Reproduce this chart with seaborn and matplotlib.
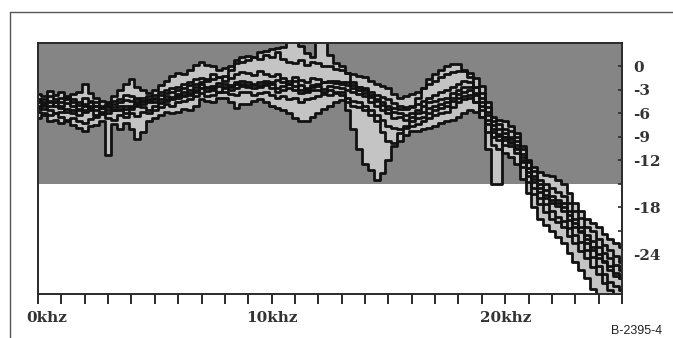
import matplotlib
matplotlib.use("Agg")
import matplotlib.pyplot as plt
from matplotlib.lines import Line2D
from matplotlib.transforms import blended_transform_factory
import pandas as pd
import seaborn as sns

# Measurement frequencies (kHz), 0.25 kHz spacing
freq_khz = [0.0, 0.25, 0.5, 0.75, 1.0, 1.25, 1.5, 1.75, 2.0, 2.25,
            2.5, 2.75, 3.0, 3.25, 3.5, 3.75, 4.0, 4.25, 4.5, 4.75,
            5.0, 5.25, 5.5, 5.75, 6.0, 6.25, 6.5, 6.75, 7.0, 7.25,
            7.5, 7.75, 8.0, 8.25, 8.5, 8.75, 9.0, 9.25, 9.5, 9.75,
            10.0, 10.25, 10.5, 10.75, 11.0, 11.25, 11.5, 11.75, 12.0, 12.25,
            12.5, 12.75, 13.0, 13.25, 13.5, 13.75, 14.0, 14.25, 14.5, 14.75,
            15.0, 15.25, 15.5, 15.75, 16.0, 16.25, 16.5, 16.75, 17.0, 17.25,
            17.5, 17.75, 18.0, 18.25, 18.5, 18.75, 19.0, 19.25, 19.5, 19.75,
            20.0, 20.25, 20.5, 20.75, 21.0, 21.25, 21.5, 21.75, 22.0, 22.25,
            22.5, 22.75, 23.0, 23.25, 23.5, 23.75, 24.0, 24.25, 24.5, 24.75,
            25.0]

# Response of each measured unit (dB)
curve_a = [-5.0, -5.4, -5.0, -4.6, -5.3, -5.8, -5.5, -6.2, -5.5, -5.1,
           -5.5, -6.0, -5.5, -5.2, -5.0, -5.4, -5.0, -4.6, -4.8, -4.3,
           -4.5, -4.2, -3.8, -3.9, -3.5, -3.2, -3.0, -2.6, -2.3, -2.7,
           -2.5, -2.1, -2.3, -2.6, -2.3, -1.9, -2.0, -2.4, -2.0, -1.8,
           -2.3, -2.7, -2.5, -2.2, -2.5, -3.0, -2.8, -2.4, -2.5, -2.9,
           -2.5, -2.6, -2.8, -3.0, -3.2, -3.5, -3.8, -4.5, -5.0, -5.6,
           -6.0, -6.6, -6.5, -6.9, -6.5, -6.0, -5.8, -5.3, -5.0, -4.8,
           -4.5, -4.0, -3.5, -3.2, -3.0, -3.4, -4.5, -6.2, -8.0, -8.6,
           -9.0, -9.2, -10.0, -11.5, -13.5, -14.8, -16.0, -16.8, -17.5, -17.8,
           -18.5, -19.6, -20.5, -21.2, -22.5, -23.4, -24.5, -25.0, -26.0, -26.8,
           -27.0]
curve_b = [-4.2, -4.6, -3.8, -4.1, -4.5, -4.2, -4.6, -4.9, -4.0, -4.4,
           -4.6, -5.0, -4.8, -4.4, -4.2, -3.7, -3.8, -4.2, -4.0, -3.8,
           -3.6, -3.3, -3.0, -2.7, -2.6, -2.3, -2.0, -1.6, -1.5, -1.9,
           -1.6, -1.3, -1.2, -1.5, -1.0, -0.7, -0.8, -1.1, -0.6, -0.9,
           -1.2, -1.0, -1.5, -1.8, -1.4, -1.7, -2.0, -1.5, -1.6, -2.0,
           -1.8, -2.1, -2.2, -2.0, -2.4, -2.6, -2.8, -3.2, -3.6, -3.9,
           -4.2, -4.7, -5.0, -5.4, -5.2, -4.8, -4.4, -4.0, -3.6, -3.3,
           -3.0, -2.6, -2.2, -1.9, -2.0, -2.6, -3.4, -5.2, -7.0, -7.4,
           -8.0, -8.3, -9.0, -10.5, -12.2, -13.4, -14.5, -15.0, -15.5, -16.0,
           -16.5, -17.4, -18.5, -19.4, -20.5, -21.0, -22.0, -22.8, -23.5, -24.2,
           -25.0]
curve_c = [-5.8, -6.0, -6.2, -5.9, -6.4, -6.8, -6.6, -7.0, -7.2, -6.7,
           -6.4, -6.1, -6.6, -6.9, -6.2, -6.5, -6.0, -6.3, -5.8, -5.9,
           -5.6, -5.2, -4.8, -5.0, -4.6, -4.4, -4.2, -3.8, -3.4, -3.8,
           -3.6, -3.3, -3.2, -3.5, -3.6, -3.3, -3.2, -3.6, -3.4, -3.2,
           -3.6, -4.0, -3.8, -4.2, -4.0, -4.5, -4.2, -4.0, -3.8, -3.5,
           -3.6, -3.4, -3.6, -4.0, -4.4, -4.6, -5.0, -5.6, -6.2, -6.8,
           -7.6, -7.9, -8.0, -7.8, -7.6, -7.3, -7.0, -6.6, -6.2, -6.0,
           -5.8, -5.2, -4.6, -4.2, -4.0, -4.6, -5.6, -7.4, -9.0, -9.4,
           -10.0, -10.2, -11.0, -12.8, -14.8, -16.3, -17.6, -18.6, -19.5, -19.9,
           -20.5, -21.6, -22.5, -23.6, -24.5, -25.6, -26.5, -27.6, -28.5, -29.2,
           -29.5]
curve_d = [-3.5, -3.8, -3.1, -3.6, -3.3, -3.9, -3.5, -3.2, -2.2, -3.4,
           -4.0, -4.4, -4.5, -3.8, -3.0, -2.2, -1.6, -2.6, -3.0, -3.4,
           -3.0, -2.4, -1.8, -1.2, -0.8, -1.0, -0.5, 0.2, 0.6, 0.2,
           0.0, -0.4, -0.2, 0.1, 0.4, 0.6, 0.8, 1.2, 1.0, 1.5,
           1.2, 1.8, 1.0, 0.6, 0.5, 0.8, 0.2, 0.6, 0.4, 0.0,
           0.0, -0.3, -0.5, -0.8, -1.0, -1.2, -1.4, -1.8, -2.2, -2.5,
           -2.8, -3.5, -4.0, -3.8, -3.5, -3.2, -2.8, -2.2, -1.8, -1.4,
           -1.0, -0.7, -0.6, -0.6, -0.8, -1.5, -2.5, -4.6, -6.5, -6.8,
           -7.0, -7.6, -8.5, -10.2, -12.0, -12.8, -13.5, -13.8, -14.0, -14.5,
           -15.0, -16.2, -17.5, -18.5, -19.5, -20.0, -20.5, -21.4, -22.0, -22.6,
           -23.0]
curve_e = [-6.6, -6.2, -7.0, -6.8, -7.2, -7.0, -7.5, -7.8, -8.3, -7.6,
           -7.5, -7.0, -11.3, -7.4, -8.0, -7.2, -8.0, -9.3, -8.4, -7.0,
           -6.6, -6.2, -5.8, -6.0, -5.8, -5.4, -5.5, -5.0, -4.2, -4.4,
           -4.5, -4.0, -4.0, -4.6, -5.3, -4.8, -4.8, -4.4, -4.2, -4.6,
           -5.0, -5.3, -5.5, -6.0, -6.6, -7.0, -7.0, -6.4, -6.0, -5.4,
           -5.0, -4.6, -4.3, -4.6, -5.0, -5.2, -5.5, -6.2, -7.0, -8.4,
           -9.5, -9.8, -9.5, -8.8, -8.3, -8.2, -8.0, -7.8, -7.6, -7.2,
           -7.0, -6.8, -6.5, -6.0, -5.5, -5.8, -6.5, -8.4, -10.0, -10.6,
           -11.0, -11.6, -12.5, -14.4, -16.2, -18.0, -19.5, -20.3, -21.0, -21.8,
           -22.5, -23.8, -25.0, -26.0, -27.0, -28.4, -29.5, -30.0, -30.0, -30.0,
           -30.0]
curve_f = [-5.2, -4.8, -4.6, -5.0, -5.0, -4.7, -5.0, -5.4, -5.8, -5.3,
           -5.0, -5.3, -5.2, -5.6, -5.4, -5.0, -5.4, -5.0, -4.4, -4.6,
           -4.2, -4.5, -4.2, -4.0, -3.8, -3.6, -3.4, -3.0, -2.8, -3.1,
           -2.8, -2.5, -2.6, -3.0, -2.8, -2.5, -2.4, -2.8, -2.6, -2.4,
           -2.8, -3.2, -3.0, -2.7, -3.0, -3.4, -3.2, -3.0, -3.0, -3.3,
           -3.0, -3.2, -3.2, -5.5, -8.0, -10.5, -12.5, -13.2, -14.5, -13.6,
           -12.0, -10.2, -8.5, -7.6, -7.0, -6.6, -6.4, -5.9, -5.6, -5.3,
           -5.0, -4.4, -4.0, -3.8, -3.6, -4.6, -6.5, -10.5, -15.0, -15.0,
           -9.0, -9.6, -10.5, -12.0, -13.0, -14.4, -15.5, -16.4, -17.0, -17.4,
           -18.0, -19.0, -20.0, -21.0, -22.0, -23.0, -24.0, -24.8, -25.5, -26.4,
           -27.0]
curve_g = [-4.6, -4.2, -4.4, -4.6, -4.0, -3.8, -4.2, -4.5, -4.8, -4.6,
           -5.0, -5.3, -5.0, -4.8, -4.6, -4.3, -4.4, -4.0, -4.4, -4.1,
           -4.0, -3.7, -3.4, -3.2, -3.0, -2.7, -2.4, -2.2, -2.0, -1.6,
           -1.0, -1.3, -1.8, -0.4, 0.8, 1.2, 1.4, 1.2, 1.8, 2.0,
           2.2, 2.4, 2.5, 3.2, 3.5, 2.6, 1.7, 1.2, 3.5, 3.2,
           1.5, 0.5, 0.0, -0.8, -2.0, -2.6, -3.0, -3.6, -4.2, -4.6,
           -5.0, -5.3, -5.4, -5.2, -5.0, -4.0, -2.8, -1.6, -1.0, -0.4,
           0.0, 0.3, 0.3, -0.4, -1.4, -2.6, -4.0, -5.8, -7.5, -8.0,
           -8.5, -9.0, -9.5, -11.2, -13.0, -14.0, -15.0, -15.8, -16.5, -17.0,
           -17.5, -18.5, -19.5, -20.5, -21.5, -22.3, -23.0, -23.8, -24.5, -25.3,
           -26.0]
curve_h = [-5.4, -5.0, -5.6, -6.0, -5.8, -5.4, -6.0, -5.6, -5.0, -5.5,
           -6.2, -5.8, -6.0, -5.6, -5.6, -5.9, -5.2, -4.8, -5.2, -5.5,
           -5.0, -4.7, -4.4, -4.2, -4.0, -3.8, -3.6, -3.2, -2.8, -2.6,
           -3.0, -3.2, -2.8, -2.4, -2.0, -2.3, -2.6, -2.2, -2.4, -2.1,
           -2.0, -1.7, -2.0, -2.3, -1.8, -2.4, -3.0, -2.6, -2.2, -2.0,
           -2.0, -1.8, -2.0, -2.4, -2.8, -3.0, -3.4, -3.9, -4.4, -4.9,
           -5.4, -5.8, -6.0, -6.2, -6.0, -5.5, -5.0, -4.6, -4.4, -4.2,
           -4.0, -3.4, -3.0, -2.6, -2.6, -3.6, -5.0, -6.8, -8.4, -8.9,
           -9.4, -9.8, -10.4, -12.2, -14.0, -15.5, -16.8, -17.6, -18.5, -19.2,
           -19.8, -20.6, -21.5, -22.4, -23.5, -24.4, -25.5, -26.5, -27.5, -28.0,
           -28.5]

curves = {"a": curve_a, "b": curve_b, "c": curve_c, "d": curve_d,
          "e": curve_e, "f": curve_f, "g": curve_g, "h": curve_h}

y_ticks = [0, -3, -6, -9, -12, -15, -18, -21, -24, -27]
y_tick_labels = ["0", "-3", "-6", "-9", "-12", "", "-18", "", "-24", ""]
x_labels = {0.37: "0khz", 10.0: "10khz", 20.0: "20khz"}
passband_floor = -15

df = pd.concat(
    [pd.DataFrame({"freq": freq_khz, "level": vals, "unit": name})
     for name, vals in curves.items()],
    ignore_index=True,
)
wide = df.pivot(index="freq", columns="unit", values="level")
env_lo = wide.min(axis=1)
env_hi = wide.max(axis=1)

sns.set_style("white")
plt.rcParams["font.family"] = ["DejaVu Serif"]

W, H = 673, 338
fig = plt.figure(figsize=(W / 100, H / 100), dpi=100)
ax = fig.add_axes([38 / W, 1 - 293.5 / H, (622 - 38) / W, (293.5 - 43) / H])

# Passband shading and the spread between units
ax.set_facecolor("white")
ax.axhspan(passband_floor, 4, color="#858585", zorder=0, lw=0)
ax.fill_between(wide.index, env_lo, env_hi, step="mid",
                color="#c4c4c4", lw=0, zorder=1)

sns.lineplot(data=df, x="freq", y="level", units="unit", estimator=None,
             color="#111111", lw=2.0, drawstyle="steps-mid",
             legend=False, ax=ax, zorder=2)

ax.set_xlim(0, 25)
ax.set_ylim(-29, 3)
ax.set_xlabel("")
ax.set_ylabel("")

for s in ax.spines.values():
    s.set_visible(True)
    s.set_color("#2a2a2a")
    s.set_linewidth(1.4)

# x axis: a tick every kHz, labels every 10 kHz
ax.set_xticks(list(range(0, 26)))
ax.set_xticklabels([])
ax.tick_params(axis="x", direction="out", length=7, width=1.4,
               color="#2a2a2a", bottom=True)
tr = blended_transform_factory(ax.transData, fig.transFigure)
for xv, txt in x_labels.items():
    ax.text(xv, 1 - 318 / H, txt, transform=tr, ha="center", va="center",
            fontsize=11, color="#333333", family="DejaVu Serif",
            fontweight="bold")

# level axis on the right
ax.yaxis.tick_right()
ax.set_yticks(y_ticks)
ax.set_yticklabels(y_tick_labels)
ax.tick_params(axis="y", direction="in", length=3, width=1.2,
               color="#2a2a2a", pad=8, labelsize=11, labelcolor="#333333",
               left=False, right=True)
for lbl in ax.get_yticklabels():
    lbl.set_fontweight("bold")

# outer frame
fig.add_artist(Line2D([10 / W, 10 / W], [0, 1 - 12 / H], color="#555555",
                      lw=1.0, transform=fig.transFigure))
fig.add_artist(Line2D([10 / W, 1], [1 - 12 / H, 1 - 12 / H], color="#555555",
                      lw=1.0, transform=fig.transFigure))

fig.text(662 / W, 1 - 334 / H, "B-2395-4", ha="right", va="baseline",
         fontsize=9, color="#222222", family="Liberation Sans")

fig.savefig("out.png", dpi=100)
